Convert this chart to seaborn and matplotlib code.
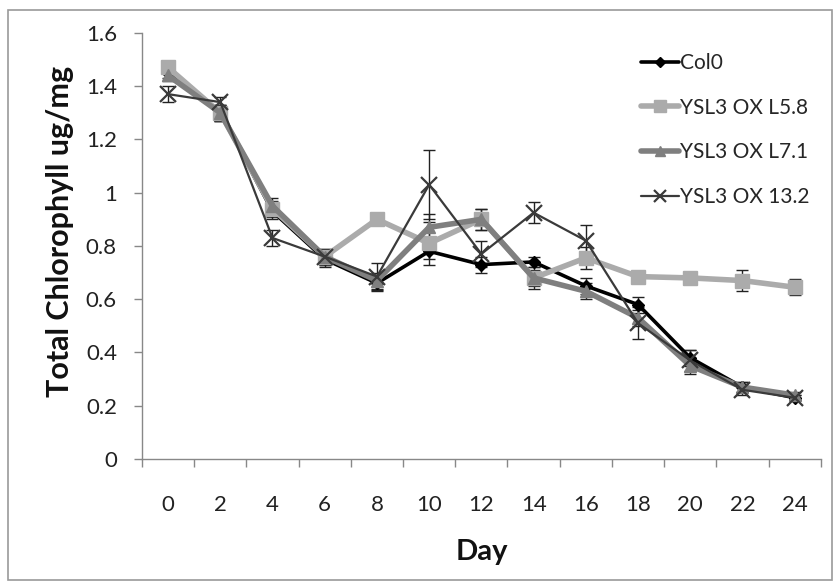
import numpy as np
import pandas as pd
import seaborn as sns
import matplotlib
matplotlib.use("Agg")
import matplotlib.pyplot as plt
from matplotlib.patches import Rectangle

days = [0, 2, 4, 6, 8, 10, 12, 14, 16, 18, 20, 22, 24]
series_names = ["Col0", "YSL3 OX L5.8", "YSL3 OX L7.1", "YSL3 OX 13.2"]
col0 = [1.45, 1.30, 0.93, 0.75, 0.66, 0.78, 0.73, 0.74, 0.65, 0.58, 0.38, 0.27, 0.23]
l58 = [1.47, 1.30, 0.94, 0.76, 0.90, 0.81, 0.90, 0.68, 0.755, 0.685, 0.68, 0.67, 0.645]
l71 = [1.44, 1.30, 0.95, 0.76, 0.67, 0.87, 0.90, 0.68, 0.63, 0.53, 0.35, 0.27, 0.24]
x132 = [1.37, 1.34, 0.83, 0.76, 0.685, 1.03, 0.77, 0.925, 0.82, 0.51, 0.37, 0.26, 0.23]
err_col0 = [0.02, 0.03, 0.03, 0.03, 0.03, 0.03, 0.03, 0.02, 0.03, 0.03, 0.03, 0.02, 0.01]
err_l58 = [0.01, 0.03, 0.03, 0.02, 0.01, 0.08, 0.04, 0.03, 0.04, 0.01, 0.01, 0.04, 0.03]
err_l71 = [0.02, 0.03, 0.03, 0.03, 0.03, 0.05, 0.04, 0.04, 0.03, 0.03, 0.03, 0.02, 0.01]
err_x132 = [0.03, 0.02, 0.03, 0.03, 0.05, 0.13, 0.05, 0.04, 0.06, 0.06, 0.04, 0.02, 0.01]
yticks = [0, 0.2, 0.4, 0.6, 0.8, 1.0, 1.2, 1.4, 1.6]
ytick_labels = ["0", "0.2", "0.4", "0.6", "0.8", "1", "1.2", "1.4", "1.6"]

values = [col0, l58, l71, x132]
errors = [err_col0, err_l58, err_l71, err_x132]
df = pd.concat([pd.DataFrame({"Day": days, "Chl": v, "err": e, "Line": n})
                for n, v, e in zip(series_names, values, errors)], ignore_index=True)

styles = {
    "Col0": dict(color="#000000", lw=2.6, marker="D", ms=6, mfc="#000000", mec="#000000", mew=1),
    "YSL3 OX L5.8": dict(color="#ababab", lw=4.0, marker="s", ms=10, mfc="#ababab", mec="#ababab", mew=1),
    "YSL3 OX L7.1": dict(color="#7f7f7f", lw=4.0, marker="^", ms=9, mfc="#7f7f7f", mec="#7f7f7f", mew=1),
    "YSL3 OX 13.2": dict(color="#3a3a3a", lw=1.6, marker="x", ms=11, mfc="none", mec="#3a3a3a", mew=1.6),
}

sns.set_theme(style="white")
plt.rcParams["font.family"] = ["Lato", "DejaVu Sans"]

fig = plt.figure(figsize=(8.35, 5.87), dpi=100)
ax = fig.add_axes([0.170, 0.218, 0.813, 0.726])

for name in series_names:
    sub = df[df["Line"] == name]
    st = styles[name]
    ax.errorbar(sub["Day"], sub["Chl"], yerr=sub["err"], fmt="none",
                ecolor="#222222", elinewidth=1.0, capsize=4, capthick=1.0, zorder=2)
    sns.lineplot(data=sub, x="Day", y="Chl", ax=ax, color=st["color"], linewidth=st["lw"],
                 marker=st["marker"], markersize=st["ms"], markerfacecolor=st["mfc"],
                 markeredgecolor=st["mec"], markeredgewidth=st["mew"], label=name,
                 errorbar=None, zorder=3)

ax.set_xlim(-1, 25)
ax.set_ylim(0, 1.6)
ax.set_xticks(days)
ax.set_xticklabels([str(d) for d in days])
ax.set_xticks(np.arange(-1, 26, 2), minor=True)
ax.set_yticks(yticks)
ax.set_yticklabels(ytick_labels)
ax.tick_params(axis="x", which="major", length=0, pad=26, labelsize=16, colors="#222222")
ax.tick_params(axis="x", which="minor", length=6, width=1, color="#888888", direction="out", bottom=True)
ax.tick_params(axis="y", which="major", length=6, width=1, color="#888888", direction="out", left=True,
               labelsize=16, labelcolor="#222222", pad=12)
for s in ["top", "right"]:
    ax.spines[s].set_visible(False)
for s in ["left", "bottom"]:
    ax.spines[s].set_color("#888888")
    ax.spines[s].set_linewidth(1.0)

ax.set_xlabel("Day", fontsize=21, fontweight="bold", color="#111111")
ax.set_ylabel("Total Chlorophyll ug/mg", fontsize=22, fontweight="bold", color="#111111")
ax.yaxis.set_label_coords(-0.100, 0.535)
ax.xaxis.set_label_coords(0.5, -0.188)

leg = ax.legend(loc="upper right", bbox_to_anchor=(0.995, 0.972), frameon=False, fontsize=15,
                labelspacing=1.18, handlelength=1.8, handletextpad=0.05, borderaxespad=0)
for h in leg.legend_handles:
    h.set_markersize(h.get_markersize() * 0.8)

fig.patches.append(Rectangle((8 / 835, 7 / 587), 824 / 835, 570 / 587, transform=fig.transFigure,
                             fill=False, edgecolor="#9a9a9a", linewidth=1.2))

fig.savefig("out.png", dpi=100, facecolor="white")
